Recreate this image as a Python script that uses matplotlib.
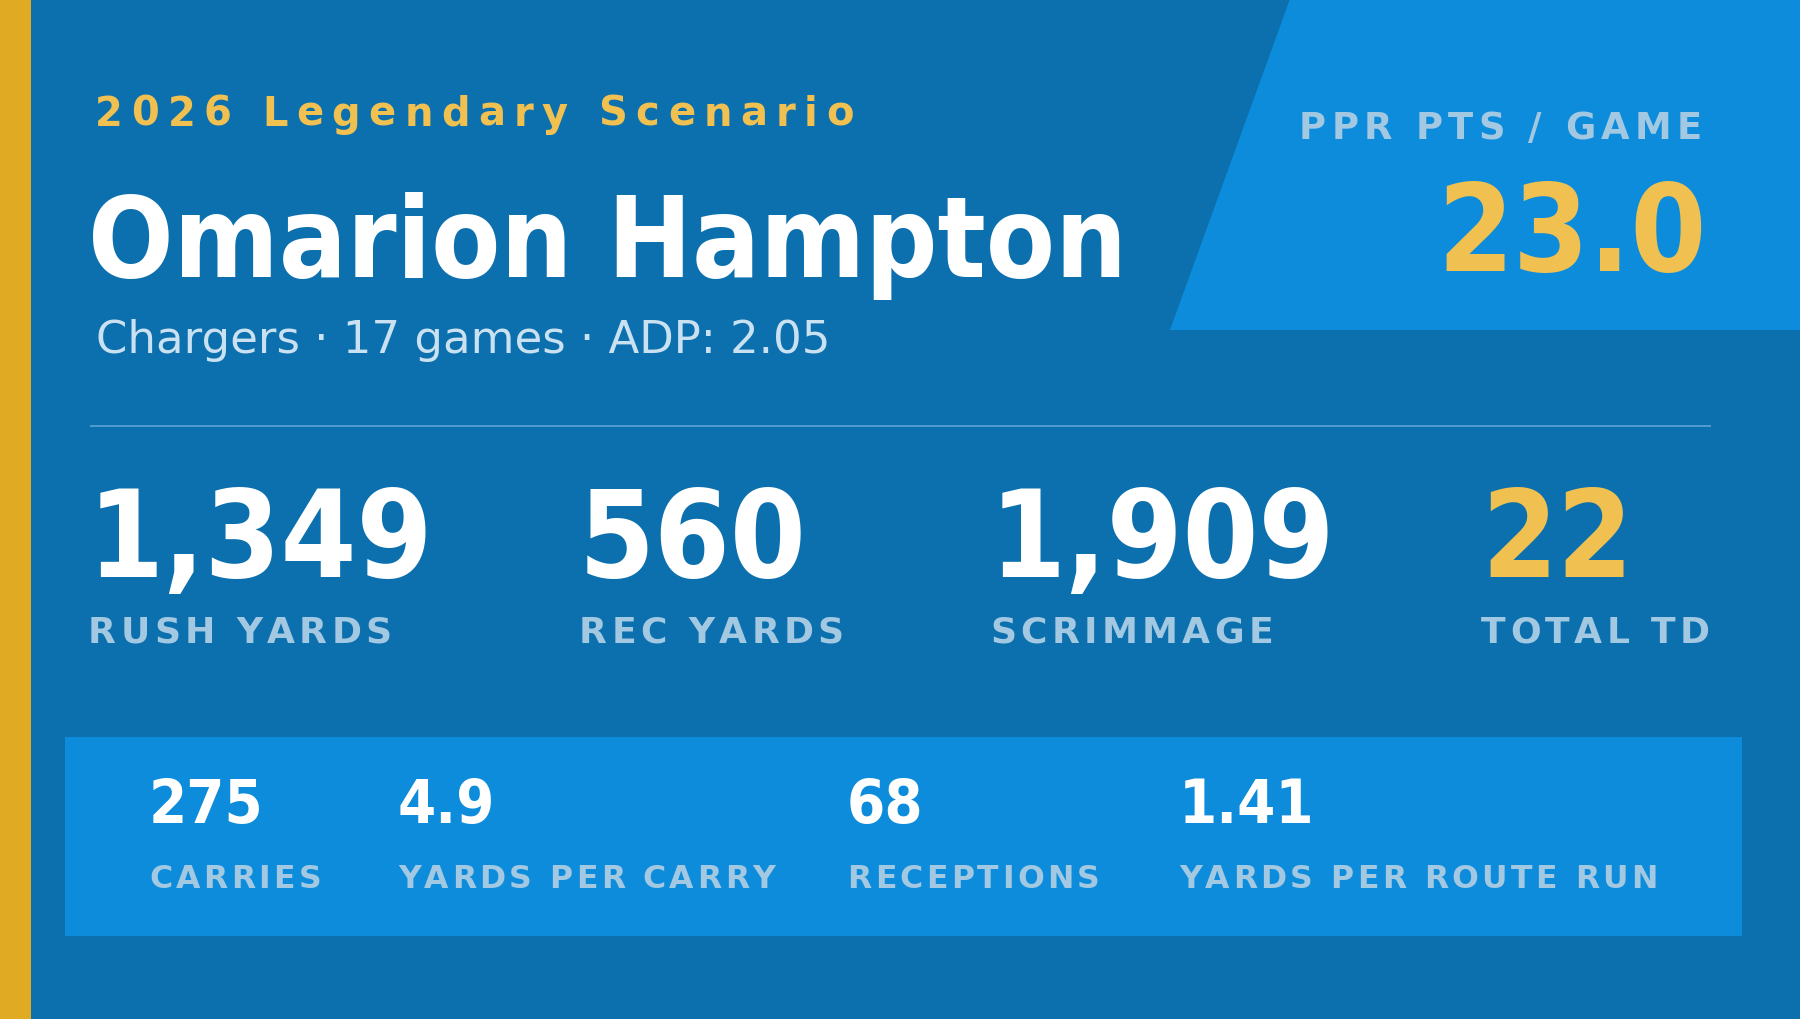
import matplotlib
matplotlib.use("Agg")
import matplotlib.pyplot as plt
from matplotlib.patches import Rectangle, Polygon
from matplotlib.font_manager import FontProperties, findfont, get_font

# 数据
kicker = "2026 Legendary Scenario"
player = "Omarion Hampton"
team = "Chargers"
games = 17
adp = "2.05"
ppr_label = "PPR PTS / GAME"
ppr_value = 23.0
main_labels = ["RUSH YARDS", "REC YARDS", "SCRIMMAGE", "TOTAL TD"]
main_values = [1349, 560, 1909, 22]
sub_labels = ["CARRIES", "YARDS PER CARRY", "RECEPTIONS", "YARDS PER ROUTE RUN"]
sub_values = [275, 4.9, 68, 1.41]

# 颜色
BG = "#0C70AE"
PANEL = "#0E8CDC"
GOLD_BAR = "#E0AA22"
GOLD = "#F0C050"
WHITE = "#FFFFFF"
LABEL = "#A3C9E2"
SUB = "#C9E1F1"
LINE = "#5EA3D6"

DPI = 100
W, H = 1800, 1020

fig = plt.figure(figsize=(W / DPI, H / DPI), dpi=DPI, facecolor=BG)
ax = fig.add_axes([0, 0, 1, 1])
ax.set_xlim(0, W)
ax.set_ylim(H, 0)
ax.axis("off")
ax.set_facecolor(BG)


def advances(s, size, weight):
    prop = FontProperties(family="DejaVu Sans", weight=weight, size=size)
    font = get_font(findfont(prop))
    font.set_size(size, DPI)
    return [font.load_char(ord(ch)).linearHoriAdvance / 65536 for ch in s]


# 带字间距的文字，逐字放置
def spaced(x, y, s, size, color, weight="bold", track=0.0):
    adv = advances(s, size, weight)
    em = size * DPI / 72
    for ch, a in zip(s, adv):
        if ch != " ":
            ax.text(x, y, ch, fontsize=size, fontweight=weight, color=color,
                    family="DejaVu Sans", ha="left", va="baseline")
        x += a + track * em


# 大号数字 / 名字用 DejaVu Sans Condensed Bold
def big(x, y, s, size, color):
    ax.text(x, y, s, fontsize=size, fontweight="bold", fontstretch="condensed",
            color=color, family="DejaVu Sans", ha="left", va="baseline")


# 左侧金色条
ax.add_patch(Rectangle((0, 0), 31, H, color=GOLD_BAR, lw=0))

# 右上角斜切面板
ax.add_patch(Polygon([(1290, 0), (W, 0), (W, 331), (1170, 331)], closed=True,
                     color=PANEL, lw=0))

# 标题区
spaced(95, 126, kicker, 28.8, GOLD, track=0.21)
big(88, 277, player, 80.7, WHITE)
ax.text(96, 353, f"{team} \u00b7 {games} games \u00b7 ADP: {adp}", fontsize=32.4,
        color=SUB, family="DejaVu Sans", ha="left", va="baseline")

spaced(1299, 139, ppr_label, 26.6, LABEL, track=0.143)
big(1437, 271, f"{ppr_value:.1f}", 87.4, GOLD)

# 分隔线
ax.plot([90, 1711], [427, 427], color=LINE, lw=1.2, solid_capstyle="butt")

# 主要数据
col_x = [88, 579, 990, 1481]
for i, (lab, val) in enumerate(zip(main_labels, main_values)):
    c = GOLD if i == len(main_values) - 1 else WHITE
    big(col_x[i], 577, f"{val:,}", 87.4, c)
    spaced(col_x[i], 643, lab, 26, LABEL, track=0.122)

# 底部面板
ax.add_patch(Rectangle((65, 738), 1677, 199, color=PANEL, lw=0))
sub_x = [149, 398, 847, 1179]
for i, (lab, val) in enumerate(zip(sub_labels, sub_values)):
    big(sub_x[i], 823, str(val), 44, WHITE)
    spaced(sub_x[i], 888, lab, 22.7, LABEL, track=0.107)

fig.savefig("out.png", dpi=DPI, facecolor=BG)
